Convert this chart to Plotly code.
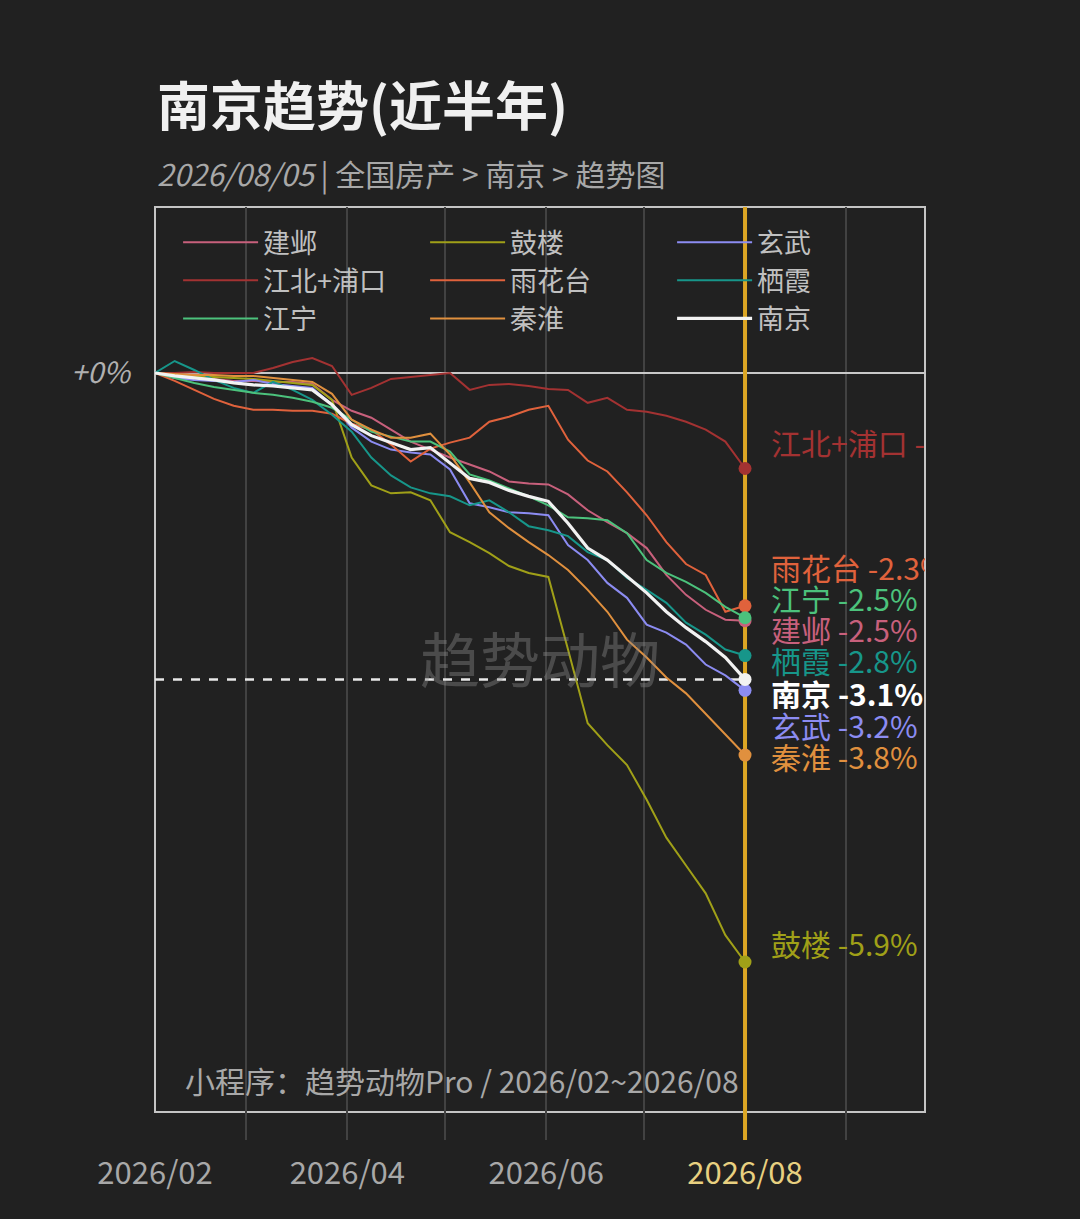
import pandas as pd
import plotly.graph_objects as go

# ~6-day sampling, Feb 1 -> Aug 1 2026 (31 points)
dates = pd.date_range('2026-02-01', '2026-08-01', periods=31)

jianye = [0, -0.03, -0.05, -0.06, -0.08, -0.08, -0.09, -0.09, -0.11, -0.27, -0.38, -0.45, -0.57, -0.69, -0.77, -0.85,
          -0.92, -0.99, -1.09, -1.11, -1.12, -1.22, -1.38, -1.50, -1.61, -1.76, -2.03, -2.23, -2.38, -2.48, -2.49]
jiangbei = [0, 0, 0.01, 0, 0, 0, 0.05, 0.11, 0.15, 0.07, -0.22, -0.15, -0.06, -0.04, -0.02, 0,
            -0.17, -0.12, -0.11, -0.13, -0.16, -0.17, -0.30, -0.25, -0.37, -0.39, -0.43, -0.49, -0.57, -0.69, -0.96]
jiangning = [0, -0.05, -0.10, -0.14, -0.17, -0.20, -0.22, -0.25, -0.29, -0.35, -0.47, -0.59, -0.64, -0.69, -0.69, -0.79,
             -1.02, -1.08, -1.16, -1.24, -1.33, -1.45, -1.46, -1.48, -1.61, -1.88, -2.01, -2.10, -2.21, -2.35, -2.46]
gulou = [0, -0.02, -0.03, -0.04, -0.05, -0.06, -0.08, -0.10, -0.12, -0.27, -0.85, -1.13, -1.21, -1.20, -1.28, -1.60,
         -1.70, -1.81, -1.94, -2.01, -2.05, -2.78, -3.52, -3.74, -3.94, -4.29, -4.67, -4.95, -5.23, -5.65, -5.92]
yuhuatai = [0, -0.08, -0.17, -0.26, -0.33, -0.37, -0.37, -0.38, -0.38, -0.41, -0.51, -0.57, -0.72, -0.89, -0.76, -0.70,
            -0.65, -0.49, -0.44, -0.37, -0.33, -0.67, -0.88, -0.99, -1.20, -1.43, -1.70, -1.92, -2.03, -2.40, -2.34]
qinhuai = [0, -0.01, -0.02, -0.02, -0.03, -0.03, -0.05, -0.07, -0.09, -0.21, -0.47, -0.57, -0.65, -0.65, -0.61, -0.82,
           -1.10, -1.40, -1.56, -1.70, -1.83, -1.98, -2.18, -2.40, -2.68, -2.86, -3.06, -3.22, -3.43, -3.64, -3.84]
xuanwu = [0, -0.05, -0.07, -0.08, -0.09, -0.07, -0.11, -0.13, -0.15, -0.32, -0.55, -0.69, -0.77, -0.80, -0.82, -0.97,
          -1.31, -1.35, -1.40, -1.41, -1.43, -1.73, -1.88, -2.11, -2.26, -2.53, -2.61, -2.73, -2.93, -3.04, -3.19]
qixia = [0, 0.12, 0.03, -0.07, -0.15, -0.20, -0.09, -0.17, -0.27, -0.42, -0.59, -0.85, -1.03, -1.15, -1.21, -1.24,
         -1.33, -1.28, -1.40, -1.54, -1.58, -1.64, -1.80, -1.88, -2.06, -2.18, -2.31, -2.51, -2.63, -2.78, -2.84]
nanjing = [0, -0.03, -0.05, -0.07, -0.10, -0.12, -0.13, -0.15, -0.17, -0.32, -0.52, -0.63, -0.70, -0.77, -0.75, -0.90,
           -1.06, -1.10, -1.18, -1.24, -1.29, -1.51, -1.76, -1.88, -2.04, -2.21, -2.40, -2.56, -2.70, -2.86, -3.08]

# legend order (row by row, 3 columns)
names = ['建邺', '鼓楼', '玄武', '江北+浦口', '雨花台', '栖霞', '江宁', '秦淮', '南京']
series = [jianye, gulou, xuanwu, jiangbei, yuhuatai, qixia, jiangning, qinhuai, nanjing]
colors = ['#c8607c', '#a0a018', '#8c8cf2', '#a33232', '#e0623c', '#17968a', '#4cc27c', '#e0903e', '#f2f2f2']

# vertical spots of the end labels (pushed apart so they do not overlap)
label_y = [-2.63, -5.78, -3.59, -0.75, -2.01, -2.94, -2.32, -3.90, -3.27]
label_x = pd.Timestamp('2026-08-09')

y_range = [-7.709, 1.668]
x_range = ['2026-02-01', '2026-09-25 05:00']
bg = '#212121'
fnt = 'Noto Sans CJK SC'

fig = go.Figure()
for name, vals, col in zip(names, series, colors):
    fig.add_trace(go.Scatter(x=dates, y=vals, name=name, mode='lines',
                             line=dict(color=col, width=3.2 if name == '南京' else 2)))

# current date marker: a trace so it sits above the grid but under the dots
fig.add_trace(go.Scatter(x=[dates[-1], dates[-1]], y=y_range, mode='lines', showlegend=False,
                         line=dict(color='#dca624', width=4), cliponaxis=False))

# end dots
fig.add_trace(go.Scatter(x=[dates[-1]] * len(series), y=[s[-1] for s in series], mode='markers',
                         marker=dict(color=colors, size=13), showlegend=False))

# end labels (clipped at the plot edge like the original)
texts = []
for name, vals in zip(names, series):
    t = f'{name} {vals[-1]:.1f}%'
    texts.append(f'<b>{t}</b>' if name == '南京' else t)
fig.add_trace(go.Scatter(x=[label_x] * len(series), y=label_y, mode='text', text=texts,
                         textposition='middle right', cliponaxis=True, showlegend=False,
                         textfont=dict(color=[('#ffffff' if n == '南京' else c) for n, c in zip(names, colors)],
                                       size=30, family=fnt)))

# dashed reference at Nanjing's latest level
fig.add_shape(type='line', x0=dates[0], x1=dates[-1], y0=nanjing[-1], y1=nanjing[-1],
              line=dict(color='#e8e8e8', width=2.5, dash='dash'), layer='between')
# frame
fig.add_shape(type='rect', xref='paper', yref='paper', x0=0, x1=1, y0=0.03, y1=1,
              line=dict(color='#c4c4c4', width=2), layer='between')

month_ticks = pd.date_range('2026-02-01', '2026-09-01', freq='MS')
tick_text = []
for d in month_ticks:
    if d.month % 2:
        tick_text.append('')
    elif d.month == 8:
        tick_text.append(f'<span style="color:#e8d080">{d:%Y/%m}</span>')
    else:
        tick_text.append(f'{d:%Y/%m}')

fig.update_xaxes(range=x_range, tickvals=month_ticks, ticktext=tick_text,
                 showgrid=True, gridcolor='#424242', gridwidth=1.5, ticks='', showline=False,
                 zeroline=False, tickfont=dict(size=31, color='#a8a8a8', family=fnt), ticklabelstandoff=12)
fig.update_yaxes(range=y_range, tickvals=[0], ticktext=['<i>+0%</i>'], showgrid=False,
                 zeroline=True, zerolinecolor='#c8c8c8', zerolinewidth=2, ticks='', showline=False,
                 tickfont=dict(size=29, color='#b0b0b0', family=fnt), ticklabelstandoff=24)

fig.add_annotation(text='<b>南京趋势(近半年)</b>', xref='paper', yref='paper', x=0.0, y=1.112,
                   xanchor='left', yanchor='middle', showarrow=False,
                   font=dict(size=53, color='#f0f0f0', family=fnt))
fig.add_annotation(text='<i>2026/08/05</i> | 全国房产 > 南京 > 趋势图', xref='paper', yref='paper', x=0.0, y=1.036,
                   xanchor='left', yanchor='middle', showarrow=False,
                   font=dict(size=30, color='#a8a8a8', family=fnt))
fig.add_annotation(text='趋势动物', xref='paper', yref='paper', x=0.5, y=0.518,
                   xanchor='center', yanchor='middle', showarrow=False,
                   font=dict(size=60, color='rgba(140,140,140,0.4)', family=fnt))
fig.add_annotation(text='小程序：趋势动物Pro / 2026/02~2026/08', xref='paper', yref='paper', x=0.036, y=0.064,
                   xanchor='left', yanchor='middle', showarrow=False,
                   font=dict(size=30, color='#a8a8a8', family=fnt))

fig.update_layout(width=1080, height=1219, paper_bgcolor=bg, plot_bgcolor=bg,
                  margin=dict(l=155, r=155, t=207, b=79),
                  font=dict(family=fnt, color='#c0c0c0'),
                  legend=dict(orientation='h', x=0.03, y=0.988, xanchor='left', yanchor='top',
                              entrywidth=157, entrywidthmode='pixels', bgcolor='rgba(0,0,0,0)',
                              font=dict(size=27, color='#c0c0c0', family=fnt), itemwidth=75,
                              traceorder='normal'),
                  hovermode=False)

fig.write_html('out.html', config={'displayModeBar': False},
               post_script="document.body.style.margin='0px';")
